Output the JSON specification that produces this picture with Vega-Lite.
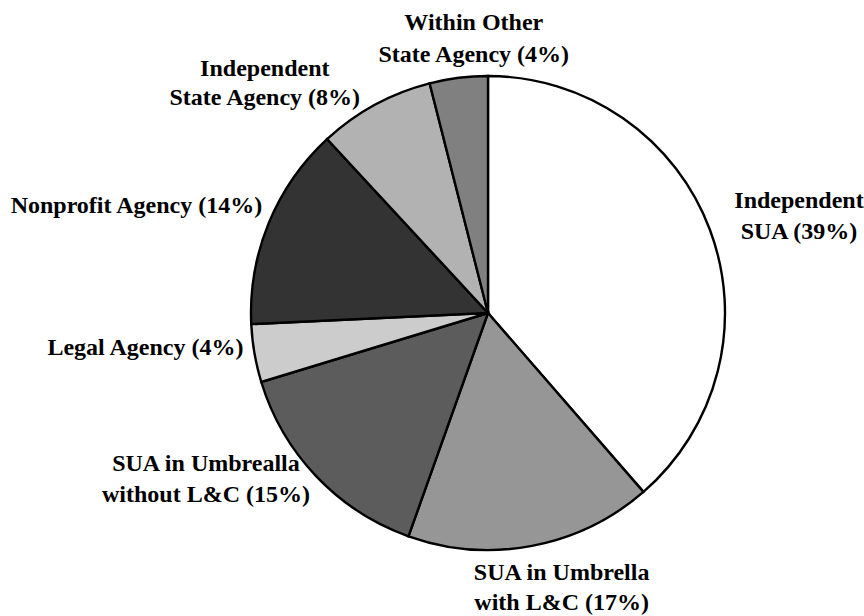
{
  "$schema": "https://vega.github.io/schema/vega-lite/v6.json",
  "width": 752,
  "height": 606,
  "autosize": "none",
  "padding": {"left": 112, "top": 10, "right": 0, "bottom": 0},
  "background": "white",
  "config": {"view": {"stroke": null}},
  "data": {
    "values": [
      {"idx": 1, "category": "Independent SUA", "pct": 39, "label": "Independent\nSUA (39%)"},
      {"idx": 2, "category": "SUA in Umbrella with L&C", "pct": 17, "label": "SUA in Umbrella\nwith L&C (17%)"},
      {"idx": 3, "category": "SUA in Umbrealla without L&C", "pct": 15, "label": "SUA in Umbrealla\nwithout L&C (15%)"},
      {"idx": 4, "category": "Legal Agency", "pct": 4, "label": "Legal Agency (4%)"},
      {"idx": 5, "category": "Nonprofit Agency", "pct": 14, "label": "Nonprofit Agency (14%)"},
      {"idx": 6, "category": "Independent State Agency", "pct": 8, "label": "Independent\nState Agency (8%)"},
      {"idx": 7, "category": "Within Other State Agency", "pct": 4, "label": "Within Other\nState Agency (4%)"}
    ]
  },
  "encoding": {
    "theta": {"field": "pct", "type": "quantitative", "stack": true},
    "order": {"field": "idx", "type": "quantitative"}
  },
  "layer": [
    {
      "mark": {"type": "arc", "outerRadius": 237, "stroke": "black", "strokeWidth": 2.4},
      "encoding": {
        "color": {
          "field": "category",
          "type": "nominal",
          "legend": null,
          "scale": {
            "domain": ["Independent SUA", "SUA in Umbrella with L&C", "SUA in Umbrealla without L&C", "Legal Agency", "Nonprofit Agency", "Independent State Agency", "Within Other State Agency"],
            "range": ["#ffffff", "#969696", "#5c5c5c", "#cccccc", "#333333", "#b2b2b2", "#808080"]
          }
        }
      }
    },
    {
      "mark": {"type": "text", "radius": 300, "dx": 30, "dy": -7, "font": "Liberation Serif", "fontWeight": "bold", "fontSize": 24, "lineBreak": "\n", "lineHeight": 31, "align": "center", "baseline": "middle", "color": "black"},
      "encoding": {"text": {"condition": {"test": "datum.idx === 1", "field": "label"}, "value": ""}}
    },
    {
      "mark": {"type": "text", "radius": 300, "dx": 18, "dy": -35, "font": "Liberation Serif", "fontWeight": "bold", "fontSize": 24, "lineBreak": "\n", "lineHeight": 30, "align": "center", "baseline": "middle", "color": "black"},
      "encoding": {"text": {"condition": {"test": "datum.idx === 2", "field": "label"}, "value": ""}}
    },
    {
      "mark": {"type": "text", "radius": 300, "dx": -65, "dy": -56, "font": "Liberation Serif", "fontWeight": "bold", "fontSize": 24, "lineBreak": "\n", "lineHeight": 31, "align": "center", "baseline": "middle", "color": "black"},
      "encoding": {"text": {"condition": {"test": "datum.idx === 3", "field": "label"}, "value": ""}}
    },
    {
      "mark": {"type": "text", "radius": 300, "dx": -47, "dy": -16, "font": "Liberation Serif", "fontWeight": "bold", "fontSize": 24, "lineBreak": "\n", "lineHeight": 30, "align": "center", "baseline": "middle", "color": "black"},
      "encoding": {"text": {"condition": {"test": "datum.idx === 4", "field": "label"}, "value": ""}}
    },
    {
      "mark": {"type": "text", "radius": 300, "dx": -74, "dy": 7, "font": "Liberation Serif", "fontWeight": "bold", "fontSize": 24, "lineBreak": "\n", "lineHeight": 30, "align": "center", "baseline": "middle", "color": "black"},
      "encoding": {"text": {"condition": {"test": "datum.idx === 5", "field": "label"}, "value": ""}}
    },
    {
      "mark": {"type": "text", "radius": 300, "dx": -80, "dy": 20, "font": "Liberation Serif", "fontWeight": "bold", "fontSize": 24, "lineBreak": "\n", "lineHeight": 29, "align": "center", "baseline": "middle", "color": "black"},
      "encoding": {"text": {"condition": {"test": "datum.idx === 6", "field": "label"}, "value": ""}}
    },
    {
      "mark": {"type": "text", "radius": 300, "dx": 23, "dy": 8, "font": "Liberation Serif", "fontWeight": "bold", "fontSize": 24, "lineBreak": "\n", "lineHeight": 32, "align": "center", "baseline": "middle", "color": "black"},
      "encoding": {"text": {"condition": {"test": "datum.idx === 7", "field": "label"}, "value": ""}}
    }
  ]
}
